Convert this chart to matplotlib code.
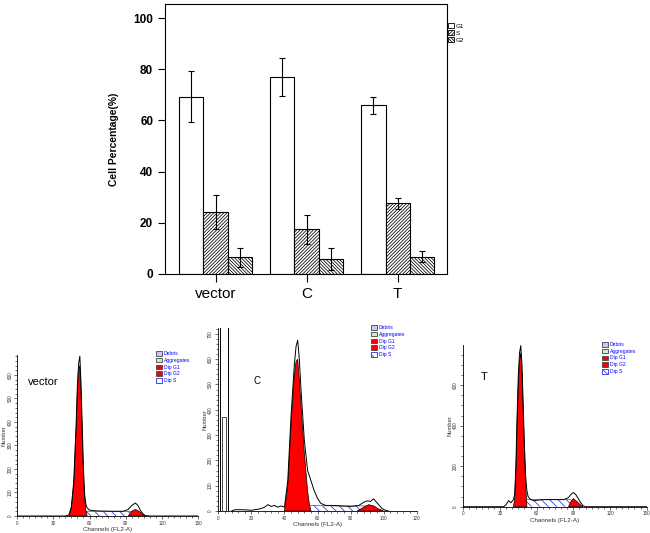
import matplotlib
matplotlib.use("Agg")
import matplotlib.pyplot as plt
from matplotlib.patches import Patch
from matplotlib.ticker import MultipleLocator
import numpy as np

plt.rcParams['font.family'] = ['Liberation Sans', 'DejaVu Sans']
plt.rcParams['hatch.linewidth'] = 0.55

# ---- bar chart data ----
groups = ["vector", "C", "T"]
phases = ["G1", "S", "G2"]
g1_mean = [69.3, 76.9, 65.9]
g1_err = [10.1, 7.5, 3.2]
s_mean = [24.2, 17.4, 27.6]
s_err = [6.8, 5.5, 2.1]
g2_mean = [6.5, 5.9, 6.8]
g2_err = [3.6, 4.2, 2.1]

# ---- flow histograms (channel, count) ----
vec_line_ch = [0, 40, 43, 45, 47, 49, 50, 51, 52, 53, 54, 55, 56, 57, 58, 60, 65, 70, 80, 88, 92, 95, 97, 98, 100, 102, 104, 106, 110, 150]
vec_line_ct = [0, 0, 5, 40, 150, 400, 560, 650, 680, 560, 380, 200, 90, 50, 35, 25, 22, 21, 20, 20, 28, 45, 52, 55, 45, 25, 10, 2, 0, 0]
vec_g1_ch = [43, 45, 47, 49, 50, 51, 52, 53, 54, 55, 56, 57, 58]
vec_g1_ct = [0, 35, 140, 380, 540, 620, 640, 520, 340, 170, 70, 25, 0]
vec_s_ch = [48, 52, 60, 80, 95, 99]
vec_s_ct = [0, 20, 20, 20, 20, 0]
vec_g2_ch = [92, 95, 98, 101, 104, 106]
vec_g2_ct = [0, 20, 28, 20, 8, 0]

c_line_ch = [8, 10, 15, 20, 25, 28, 30, 32, 34, 36, 38, 40, 42, 44, 46, 47, 48, 49, 50, 52, 54, 56, 58, 60, 62, 65, 70, 75, 80, 85, 88, 90, 92, 94, 95, 97, 99, 101, 103]
c_line_ct = [0, 5, 5, 3, 8, 15, 25, 18, 22, 15, 20, 15, 120, 380, 580, 650, 675, 600, 480, 280, 160, 120, 80, 50, 30, 22, 22, 20, 18, 22, 35, 40, 38, 48, 40, 25, 10, 3, 0]
c_g1_ch = [40, 42, 44, 46, 47, 48, 49, 50, 52, 54, 55, 56]
c_g1_ct = [0, 100, 340, 540, 590, 600, 520, 420, 230, 80, 30, 0]
c_s_ch = [43, 48, 55, 70, 85, 92, 95]
c_s_ct = [0, 20, 22, 20, 20, 20, 0]
c_g2_ch = [84, 88, 91, 94, 97, 100]
c_g2_ct = [0, 15, 25, 20, 8, 0]
c_debris_ch = [1.0, 1.0, 5.6, 5.6]
c_debris_ct = [0, 760, 760, 0]
c_debris_in_ch = [2.4, 2.4, 4.4, 4.4]
c_debris_in_ct = [0, 370, 370, 0]

t_line_ch = [0, 33, 35, 37, 39, 41, 42, 43, 44, 45, 46, 47, 48, 49, 50, 51, 52, 53, 55, 58, 65, 75, 82, 86, 88, 90, 92, 94, 96, 98, 100, 150]
t_line_ct = [0, 0, 10, 30, 20, 35, 60, 200, 450, 650, 760, 795, 700, 500, 300, 150, 80, 50, 35, 30, 35, 35, 35, 45, 60, 70, 60, 40, 20, 5, 0, 0]
t_g1_ch = [41, 42, 43, 44, 45, 46, 47, 48, 49, 50, 51, 52]
t_g1_ct = [0, 40, 170, 420, 610, 720, 760, 660, 470, 270, 110, 0]
t_s_ch = [43, 48, 60, 80, 88, 90]
t_s_ct = [0, 35, 35, 35, 35, 0]
t_g2_ch = [86, 88, 90, 93, 96, 98]
t_g2_ct = [0, 25, 40, 25, 8, 0]

hist_legend = ["Debris", "Aggregates", "Dip G1", "Dip G2", "Dip S"]

W, H = 650, 533
fig = plt.figure(figsize=(W / 100, H / 100), dpi=100)


def px_axes(l, t, r, b):
    return fig.add_axes([l / W, 1 - b / H, (r - l) / W, (b - t) / H])


# ---------------- bar chart ----------------
ax = px_axes(165, 4, 447, 274)
centers = np.arange(len(groups)) * 3.75
bw = 1.0
styles = [("", g1_mean, g1_err), ("/" * 10, s_mean, s_err), ("\\" * 10, g2_mean, g2_err)]
handles = []
for k, (hatch, vals, errs) in enumerate(styles):
    x = centers + (k - 1) * bw
    ax.bar(x, vals, width=bw, color="white", edgecolor="black", hatch=hatch, linewidth=0.8, zorder=2)
    ax.errorbar(x, vals, yerr=errs, fmt="none", ecolor="black", elinewidth=0.8,
                capsize=2.5, capthick=0.8, zorder=3)
    handles.append(Patch(facecolor="white", edgecolor="black", hatch=hatch, linewidth=0.6))

ax.set_xlim(-2.08, centers[-1] + 2.03)
ax.set_ylim(0, 105.5)
ax.set_yticks([0, 20, 40, 60, 80, 100])
ax.set_xticks(centers)
ax.set_xticklabels(groups, fontsize=11)
ax.tick_params(axis="y", labelsize=8.5, length=5, width=0.8, direction="out")
ax.tick_params(axis="x", length=6, width=0.8, direction="out", pad=3)
for lab in ax.get_yticklabels():
    lab.set_fontweight("bold")
ax.set_ylabel("Cell Percentage(%)", fontsize=7.4, fontweight="bold", labelpad=10)
for sp in ax.spines.values():
    sp.set_linewidth(0.8)
ax.legend(handles, phases, loc="upper left", bbox_to_anchor=(1.005, 0.93), frameon=False,
          fontsize=4.5, handlelength=0.9, handleheight=0.9, handletextpad=0.3,
          labelspacing=0.2, borderpad=0, borderaxespad=0)


# ---------------- flow histograms ----------------
def draw_hist(ax, line_ch, line_ct, g1_ch, g1_ct, s_ch, s_ct, g2_ch, g2_ct,
              xmax, xmaj, xmin, ymax, ymaj, ymin, label, label_xy, label_size, leg_xy, ylab_x):
    ax.fill(s_ch, s_ct, facecolor="white", edgecolor="#2030e0", hatch="\\\\\\\\", linewidth=0, zorder=2)
    ax.plot(s_ch, s_ct, color="#555555", linewidth=0.5, zorder=2)
    ax.fill(g1_ch, g1_ct, facecolor="#ff0000", edgecolor="black", linewidth=0.5, zorder=3)
    ax.fill(g2_ch, g2_ct, facecolor="#ff0000", edgecolor="black", linewidth=0.5, zorder=3)
    ax.plot(line_ch, line_ct, color="black", linewidth=0.7, zorder=4)
    ax.set_xlim(xmax[0], xmax[1])
    ax.set_ylim(0, ymax)
    ax.xaxis.set_major_locator(MultipleLocator(xmaj))
    ax.xaxis.set_minor_locator(MultipleLocator(xmin))
    ax.yaxis.set_major_locator(MultipleLocator(ymaj))
    ax.yaxis.set_minor_locator(MultipleLocator(ymin))
    ax.set_xticks(np.arange(0, xmax[1] + 0.1, xmaj))
    ax.spines["top"].set_visible(False)
    ax.spines["right"].set_visible(False)
    for sp in ("left", "bottom"):
        ax.spines[sp].set_linewidth(0.6)
    ax.tick_params(which="major", length=2.5, width=0.5, labelsize=3.3, pad=0.8, colors="#333333")
    ax.tick_params(which="minor", length=1.5, width=0.4)
    for lab in ax.get_yticklabels():
        lab.set_rotation(90)
        lab.set_va("center")
    ax.set_xlabel("Channels (FL2-A)", fontsize=4.5, labelpad=1, color="#333333")
    ax.set_ylabel("Number", fontsize=4.2, color="#333333")
    ax.yaxis.set_label_coords(ylab_x, 0.5)
    ax.text(label_xy[0], label_xy[1], label, transform=ax.transAxes, fontsize=label_size,
            ha="left", va="center")
    leg_handles = [
        Patch(facecolor="#c8c8f0", edgecolor="#444444", linewidth=0.6),
        Patch(facecolor="#c8f0c8", edgecolor="#444444", linewidth=0.6),
        Patch(facecolor="#ff0000", edgecolor="#444444", linewidth=0.6),
        Patch(facecolor="#ff0000", edgecolor="#444444", linewidth=0.6),
        Patch(facecolor="white", edgecolor="#2030e0", hatch="\\\\", linewidth=0.6),
    ]
    fig.legend(leg_handles, hist_legend, loc="upper left",
               bbox_to_anchor=(leg_xy[0] / W, 1 - leg_xy[1] / H), frameon=False,
               fontsize=3.6, labelcolor="#0000ff", handlelength=1.1, handleheight=1.0,
               handletextpad=0.5, labelspacing=0.35, borderpad=0, borderaxespad=0)


ax1 = px_axes(17, 355, 198.3, 516)
draw_hist(ax1, vec_line_ch, vec_line_ct, vec_g1_ch, vec_g1_ct, vec_s_ch, vec_s_ct,
          vec_g2_ch, vec_g2_ct, (0, 150), 30, 5, 685, 100, 20,
          "vector", (0.06, 0.83), 8, (156, 351), -0.058)

ax2 = px_axes(217.7, 328.3, 416.7, 511)
ax2.fill(c_debris_ch, c_debris_ct, facecolor="white", edgecolor="black", linewidth=0.7, zorder=4)
ax2.plot(c_debris_in_ch, c_debris_in_ct, color="black", linewidth=0.5, zorder=5)
draw_hist(ax2, c_line_ch, c_line_ct, c_g1_ch, c_g1_ct, c_s_ch, c_s_ct,
          c_g2_ch, c_g2_ct, (-0.4, 120), 20, 4, 722, 100, 20,
          "C", (0.18, 0.71), 7, (371, 325), -0.052)

ax3 = px_axes(462.7, 345, 646.7, 506.7)
draw_hist(ax3, t_line_ch, t_line_ct, t_g1_ch, t_g1_ct, t_s_ch, t_s_ct,
          t_g2_ch, t_g2_ct, (-0.5, 150), 30, 5, 798, 200, 50,
          "T", (0.1, 0.8), 8, (602, 342), -0.057)

fig.savefig("out.png", dpi=100)
